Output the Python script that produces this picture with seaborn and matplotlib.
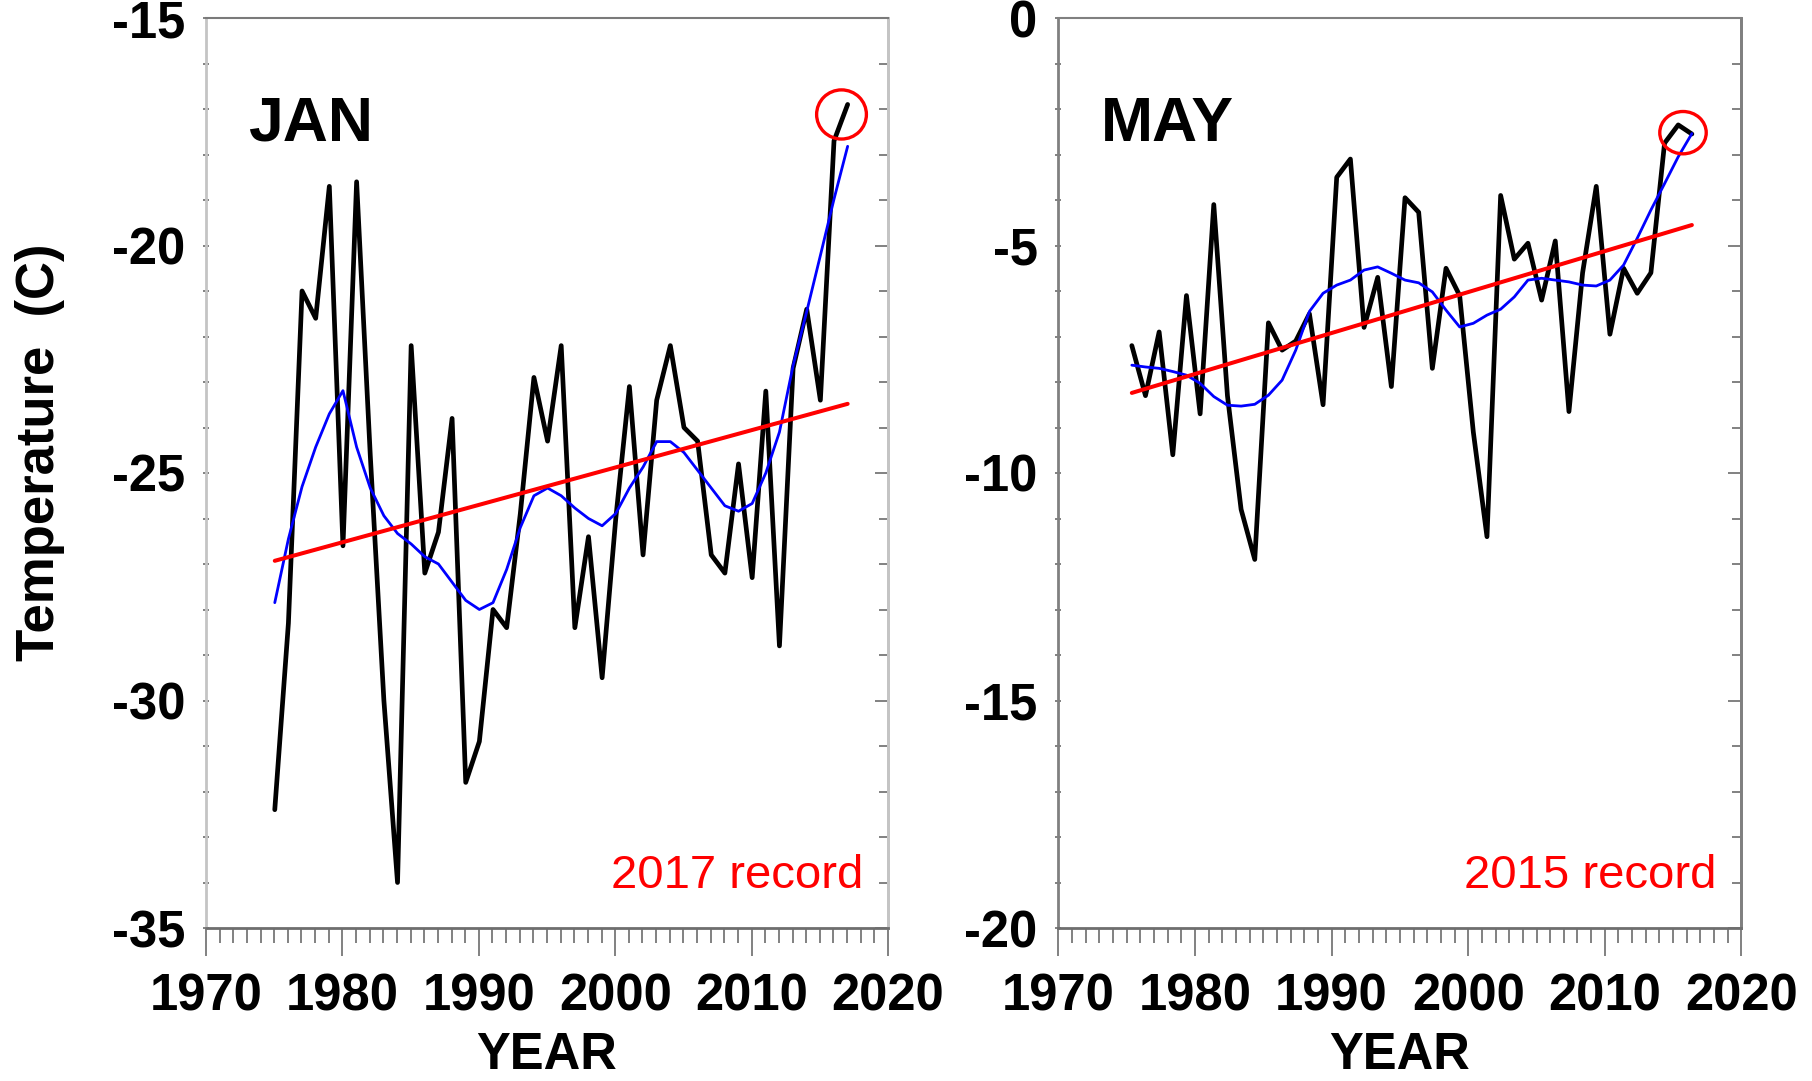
import numpy as np
import pandas as pd
import matplotlib
matplotlib.use("Agg")
import matplotlib.pyplot as plt
from matplotlib.patches import Ellipse
from matplotlib.ticker import MultipleLocator
import seaborn as sns

# ---- data ---------------------------------------------------------------
jan_years = list(range(1975, 2018))
jan_temp = [-32.4, -28.3, -21.0, -21.6, -18.7, -26.6, -18.6, -24.6, -30.0, -34.0,
            -22.2, -27.2, -26.3, -23.8, -31.8, -30.9, -28.0, -28.4, -25.9, -22.9,
            -24.3, -22.2, -28.4, -26.4, -29.5, -26.0, -23.1, -26.8, -23.4, -22.2,
            -24.0, -24.3, -26.8, -27.2, -24.8, -27.3, -23.2, -28.8, -22.7, -21.4,
            -23.4, -17.7, -16.9]
jan_smooth = [-27.85, -26.45, -25.3, -24.43, -23.7, -23.19, -24.43, -25.33, -25.94, -26.33,
              -26.56, -26.84, -27.0, -27.4, -27.8, -28.0, -27.85, -27.12, -26.2, -25.5,
              -25.33, -25.5, -25.77, -26.0, -26.16, -25.89, -25.33, -24.87, -24.31, -24.31,
              -24.55, -24.94, -25.33, -25.72, -25.84, -25.67, -25.0, -24.1, -22.64, -21.45,
              -20.22, -18.98, -17.82]
jan_trend_years = [1975, 2017]
jan_trend = [-26.93, -23.48]

may_years = list(range(1975, 2017))
may_temp = [-7.2, -8.3, -6.9, -9.6, -6.1, -8.7, -4.1, -8.3, -10.8, -11.9,
            -6.7, -7.3, -7.1, -6.5, -8.5, -3.5, -3.1, -6.8, -5.7, -8.1,
            -3.95, -4.27, -7.7, -5.5, -6.1, -9.1, -11.4, -3.9, -5.3, -4.95,
            -6.2, -4.9, -8.65, -5.6, -3.7, -6.95, -5.5, -6.05, -5.6, -2.75,
            -2.35, -2.55]
may_smooth = [-7.63, -7.67, -7.7, -7.77, -7.85, -8.03, -8.32, -8.51, -8.53, -8.49,
              -8.29, -7.96, -7.3, -6.45, -6.05, -5.87, -5.76, -5.54, -5.47, -5.61,
              -5.76, -5.82, -6.02, -6.42, -6.79, -6.71, -6.53, -6.4, -6.13, -5.76,
              -5.72, -5.76, -5.8, -5.87, -5.89, -5.76, -5.43, -4.84, -4.22, -3.64,
              -3.05, -2.54]
may_trend_years = [1975, 2016]
may_trend = [-8.24, -4.55]

year_ticks = [1970, 1980, 1990, 2000, 2010, 2020]
jan_ticks = [-35, -30, -25, -20, -15]
may_ticks = [-20, -15, -10, -5, 0]

# ---- style --------------------------------------------------------------
sns.set_style("white")
plt.rcParams["font.family"] = ["Liberation Sans", "DejaVu Sans"]
plt.rcParams["text.color"] = "black"
plt.rcParams["axes.labelcolor"] = "black"
plt.rcParams["xtick.labelcolor"] = "black"
plt.rcParams["ytick.labelcolor"] = "black"

W, H = 1812, 1081
fig = plt.figure(figsize=(W / 100, H / 100), dpi=100)
ax_jan = fig.add_axes([206 / W, 1 - 928 / H, 682 / W, 910 / H])
ax_may = fig.add_axes([1058.4 / W, 1 - 928 / H, 683 / W, 910 / H])


def draw_panel(ax, name, month, years, temp, smooth, t_years, trend,
               yticks, side_color, edge_color, ring):
    # monthly values sit at the middle of their month on a decimal-year axis
    offset = (month - 0.5) / 12.0
    df = pd.DataFrame({"x": np.asarray(years) + offset,
                       "temp": temp, "smooth": smooth})
    tdf = pd.DataFrame({"x": np.asarray(t_years) + offset, "trend": trend})

    sns.lineplot(data=df, x="x", y="temp", ax=ax, color="black",
                 linewidth=3.4, estimator=None, sort=False)
    sns.lineplot(data=df, x="x", y="smooth", ax=ax, color="#0000ff",
                 linewidth=2.0, estimator=None, sort=False)
    sns.lineplot(data=tdf, x="x", y="trend", ax=ax, color="#ff0000",
                 linewidth=2.9, estimator=None, sort=False)

    # ring around the record month (ring = x shift, y shift, width, height)
    i = int(np.argmax(temp))
    dx, dy, rw, rh = ring
    ax.add_patch(Ellipse((df["x"][i] + dx, temp[i] + dy), width=rw, height=rh,
                         fill=False, edgecolor="#ff0000", linewidth=2.4,
                         zorder=5))
    ax.text(0.963, 0.044, f"{years[i]} record", transform=ax.transAxes,
            color="#ff0000", fontsize=34, ha="right", va="baseline")
    ax.text(0.062, 0.865, name, transform=ax.transAxes, fontsize=45,
            fontweight="bold", ha="left", va="baseline", color="black")

    ax.set_xlim(year_ticks[0], year_ticks[-1])
    ax.set_ylim(yticks[0], yticks[-1])
    ax.set_xticks(year_ticks, labels=[str(v) for v in year_ticks],
                  fontsize=36.5, fontweight="bold")
    ax.set_yticks(yticks, labels=[str(v) for v in yticks],
                  fontsize=36.5, fontweight="bold")
    ax.xaxis.set_minor_locator(MultipleLocator(1))
    ax.yaxis.set_minor_locator(MultipleLocator(1))

    ax.tick_params(axis="x", which="major", direction="out", length=20,
                   width=1.3, color="#777777", pad=12, bottom=True, top=False)
    ax.tick_params(axis="x", which="minor", direction="out", length=11,
                   width=1.3, color="#777777", bottom=True, top=False)
    ax.tick_params(axis="y", which="both", direction="inout", length=4,
                   width=1.3, color="#777777", pad=13, left=True, right=False)

    # inward ticks along the right edge
    sec = ax.secondary_yaxis("right")
    sec.yaxis.set_major_locator(MultipleLocator(5))
    sec.yaxis.set_minor_locator(MultipleLocator(1))
    sec.tick_params(which="major", direction="in", length=9.5, width=1.3,
                    color="#777777", labelright=False)
    sec.tick_params(which="minor", direction="in", length=6.5, width=1.3,
                    color="#777777", labelright=False)
    sec.spines["right"].set_color(side_color)
    sec.spines["right"].set_linewidth(2.0)

    for s in ("left", "right"):
        ax.spines[s].set_color(side_color)
        ax.spines[s].set_linewidth(2.0)
    ax.spines["top"].set_color(edge_color)
    ax.spines["top"].set_linewidth(1.5)
    ax.spines["bottom"].set_color("#6e6e6e")
    ax.spines["bottom"].set_linewidth(2.0)

    ax.set_ylabel("")
    ax.set_xlabel("YEAR", fontsize=36.5, fontweight="bold", color="black")
    ax.xaxis.set_label_coords(0.5, -0.113)


draw_panel(ax_jan, "JAN", 1, jan_years, jan_temp, jan_smooth,
           jan_trend_years, jan_trend, jan_ticks, "#c4c4c4", "#7a7a7a",
           ring=(-0.45, -0.22, 3.65, 1.08))
draw_panel(ax_may, "MAY", 5, may_years, may_temp, may_smooth,
           may_trend_years, may_trend, may_ticks, "#808080", "#808080",
           ring=(0.35, -0.17, 3.4, 0.93))

fig.text(40 / W, 1 - 452 / H, "Temperature  (C)", rotation=90,
         fontsize=38, fontweight="bold", ha="center", va="center",
         color="black")

fig.savefig("out.png", dpi=100)
